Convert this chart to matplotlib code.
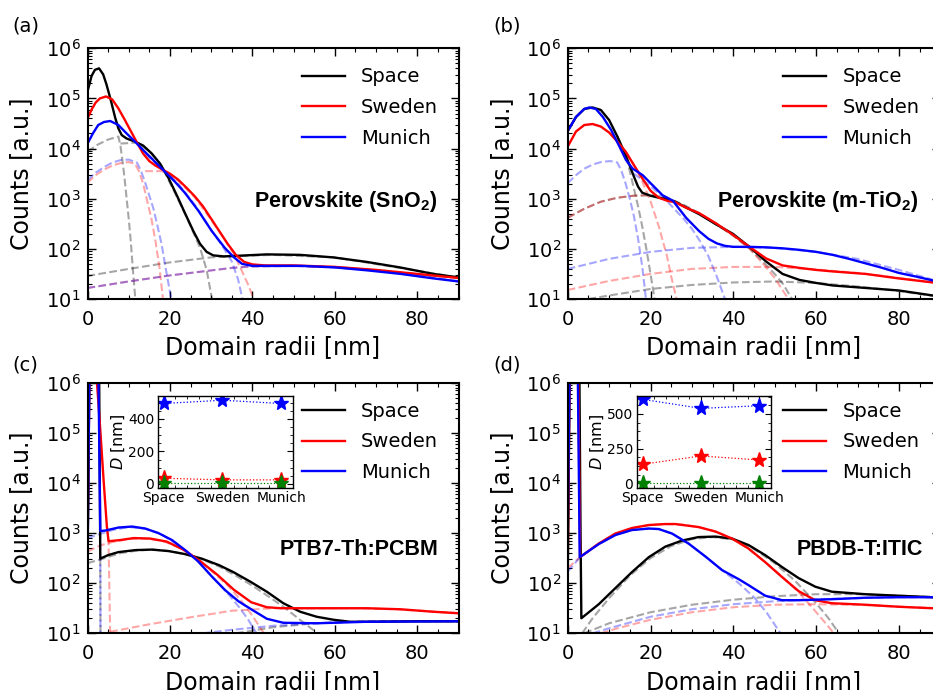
import numpy as np
import matplotlib
matplotlib.use("Agg")
import matplotlib.pyplot as plt
from matplotlib.ticker import MultipleLocator, AutoMinorLocator, LogLocator

plt.rcParams['font.family'] = ['DejaVu Sans']
plt.rcParams['mathtext.fontset'] = 'dejavusans'

# ---------------- data: x = domain radius [nm], values = log10(counts) -------------
SERIES = ["Space", "Sweden", "Munich"]
COLORS = {"Space": "black", "Sweden": "red", "Munich": "blue"}
PANEL_TITLES = ["Perovskite (SnO$_\\mathdefault{2}$)", "Perovskite (m-TiO$_\\mathdefault{2}$)",
                "PTB7-Th:PCBM", "PBDB-T:ITIC"]
PANEL_TAGS = ["(a)", "(b)", "(c)", "(d)"]

# ---- panel (a) solid curves
A_SPACE_X = [0, 1, 1.8, 2.8, 3.8, 4.6, 5.7, 6.7, 7.5, 8.3, 9.5, 11.5, 13.5, 15.6, 17.6, 19.6, 21.6, 23.6, 25.7, 27.3,
             28.9, 30.5, 33, 36, 43.5, 51.6, 59.6, 67.7, 75.8, 83.9, 90]
A_SPACE_Y = [5.14, 5.45, 5.57, 5.6, 5.48, 5.28, 4.95, 4.62, 4.4, 4.27, 4.2, 4.14, 4.06, 3.9, 3.7, 3.42, 3.08, 2.72, 2.35, 2.1,
             1.94, 1.87, 1.85, 1.86, 1.89, 1.88, 1.83, 1.74, 1.63, 1.5, 1.43]
A_SWEDEN_X = [0, 1, 2, 3, 4.5, 6, 7.5, 9, 10.5, 12, 13.5, 15, 16.5, 18.4, 20, 22, 24, 26, 28, 30, 32, 34, 36, 38, 40, 43,
              50, 60, 70, 80, 90]
A_SWEDEN_Y = [4.6, 4.78, 4.92, 5.0, 5.04, 4.98, 4.8, 4.58, 4.35, 4.12, 3.9, 3.75, 3.66, 3.57, 3.5, 3.38, 3.22, 3.05, 2.85,
              2.6, 2.35, 2.1, 1.88, 1.74, 1.69, 1.67, 1.67, 1.64, 1.58, 1.5, 1.42]
A_MUNICH_X = [0, 1.3, 2.6, 4, 5.5, 7.5, 9.5, 11.5, 13.5, 15.6, 18.4, 21.2, 23.6, 26.9, 30.1, 33.3, 35.4, 37.5, 40, 45, 52,
              60, 68, 76, 84, 90]
A_MUNICH_Y = [4.1, 4.3, 4.47, 4.53, 4.55, 4.47, 4.3, 4.14, 3.97, 3.8, 3.57, 3.34, 3.12, 2.76, 2.36, 2.02, 1.84, 1.7, 1.66,
              1.66, 1.66, 1.63, 1.57, 1.5, 1.41, 1.35]
# ---- panel (a) fit components (dashed)
A_SPACE_C1_X = [0, 2.5, 5, 7.5, 8, 8.5, 9, 9.5, 10, 10.5, 11, 11.6]
A_SPACE_C1_Y = [3.94, 4.08, 4.18, 4.24, 4.05, 3.75, 3.4, 3.0, 2.6, 2.15, 1.6, 1.0]
A_SPACE_C2_X = [8, 12, 15, 18, 21, 24, 25.5, 27.3, 28.9, 30.2]
A_SPACE_C2_Y = [4.1, 4.12, 3.95, 3.65, 3.15, 2.64, 2.36, 2.02, 1.58, 1.0]
A_SPACE_C3_X = [0, 10, 20, 30, 35, 45, 60, 75, 90]
A_SPACE_C3_Y = [1.46, 1.6, 1.73, 1.83, 1.85, 1.88, 1.83, 1.63, 1.43]
A_SWEDEN_C1_X = [0, 2, 4, 6, 8, 10, 11.5, 12.5, 13.5, 14.5, 15.5, 16.5, 17.5, 18.3]
A_SWEDEN_C1_Y = [3.32, 3.47, 3.58, 3.66, 3.71, 3.73, 3.7, 3.55, 3.3, 2.95, 2.6, 2.15, 1.6, 1.0]
A_SWEDEN_C2_X = [14, 18, 22, 26, 30, 33, 35.5, 37.5, 39, 40.3]
A_SWEDEN_C2_Y = [3.55, 3.55, 3.36, 3.03, 2.58, 2.22, 1.9, 1.55, 1.28, 1.0]
A_SWEDEN_C3_X = [0, 10, 20, 30, 35, 40, 50, 60, 70, 80, 90]
A_SWEDEN_C3_Y = [1.22, 1.35, 1.47, 1.57, 1.62, 1.65, 1.66, 1.64, 1.58, 1.5, 1.41]
A_MUNICH_C1_X = [0, 2, 4, 6, 8, 10, 12, 13, 14, 15, 16, 17, 18, 19, 20.3]
A_MUNICH_C1_Y = [3.37, 3.52, 3.63, 3.72, 3.77, 3.78, 3.72, 3.55, 3.32, 3.06, 2.8, 2.45, 2.08, 1.6, 1.0]
A_MUNICH_C2_X = [14, 18, 22, 26, 30, 33, 35, 36.5, 37.6]
A_MUNICH_C2_Y = [3.9, 3.6, 3.3, 2.88, 2.38, 2.02, 1.75, 1.4, 1.0]
A_MUNICH_C3_X = [0, 10, 20, 30, 35, 40, 50, 60, 70, 80, 90]
A_MUNICH_C3_Y = [1.22, 1.35, 1.47, 1.57, 1.62, 1.65, 1.66, 1.63, 1.57, 1.48, 1.35]

# ---- panel (b) solid curves
B_SPACE_X = [0, 2, 4, 6, 8, 10, 12, 14, 16, 17, 18, 20, 22, 24, 26, 28, 31.8, 35.8, 39.9, 43.9, 47.9, 51.9, 56, 60, 64,
             72, 80, 88.2, 90]
B_SPACE_Y = [4.35, 4.63, 4.79, 4.82, 4.77, 4.57, 4.24, 3.87, 3.44, 3.24, 3.12, 3.06, 3.02, 2.99, 2.94, 2.85, 2.69, 2.49,
             2.3, 2.04, 1.75, 1.5, 1.38, 1.32, 1.27, 1.22, 1.17, 1.07, 1.05]
B_SWEDEN_X = [0, 2, 4, 6, 8, 10, 12, 14, 16, 18, 20, 22, 24, 26, 28.6, 31.8, 35.8, 39.9, 43.9, 47.9, 51.9, 56, 60, 64, 72,
              80, 88.2, 90]
B_SWEDEN_Y = [4.04, 4.34, 4.47, 4.49, 4.44, 4.32, 4.14, 3.94, 3.67, 3.41, 3.16, 3.02, 2.96, 2.93, 2.82, 2.71, 2.51, 2.28,
              2.04, 1.81, 1.67, 1.62, 1.58, 1.55, 1.5, 1.41, 1.33, 1.31]
B_MUNICH_X = [0, 2, 4, 5.2, 6.8, 8.5, 10.5, 12.5, 14.1, 15.7, 18.1, 20.5, 22.9, 25.4, 28.6, 31.8, 34, 36, 38, 40, 44, 48,
              52, 56, 60, 64, 68, 72, 76, 80, 84, 88.2, 90]
B_MUNICH_Y = [4.35, 4.63, 4.79, 4.82, 4.79, 4.63, 4.37, 4.04, 3.77, 3.6, 3.47, 3.27, 3.07, 2.96, 2.62, 2.35, 2.2, 2.11,
              2.06, 2.04, 2.04, 2.03, 2.01, 1.98, 1.94, 1.88, 1.8, 1.71, 1.62, 1.52, 1.45, 1.37, 1.34]
# ---- panel (b) components
B_SPACE_C1_X = [12, 14, 15, 16, 17, 18, 19, 20, 21]
B_SPACE_C1_Y = [4.24, 3.87, 3.55, 3.2, 2.85, 2.45, 2.0, 1.5, 1.0]
B_SPACE_C2_X = [0, 4, 8, 12, 16, 20, 24, 28, 32, 36, 40, 44, 47, 50, 52, 54.2]
B_SPACE_C2_Y = [2.62, 2.8, 2.94, 3.02, 3.06, 3.07, 3.02, 2.88, 2.7, 2.48, 2.26, 2.0, 1.76, 1.5, 1.3, 1.0]
B_SPACE_C3_X = [5, 10, 20, 30, 40, 50, 60, 70, 80, 90]
B_SPACE_C3_Y = [1.0, 1.07, 1.2, 1.28, 1.33, 1.35, 1.32, 1.25, 1.16, 1.04]
B_SWEDEN_C1_X = [14, 16, 18, 20, 22, 24, 25, 26.3]
B_SWEDEN_C1_Y = [3.94, 3.67, 3.35, 2.95, 2.45, 1.85, 1.45, 1.0]
B_SWEDEN_C2_X = [0, 4, 8, 12, 16, 20, 24, 28, 32, 36, 40, 44, 47, 50, 53.3]
B_SWEDEN_C2_Y = [2.62, 2.8, 2.94, 3.02, 3.06, 3.07, 3.0, 2.86, 2.7, 2.5, 2.27, 2.0, 1.72, 1.42, 1.0]
B_SWEDEN_C3_X = [0, 10, 20, 30, 40, 50, 60, 70, 80, 90]
B_SWEDEN_C3_Y = [1.18, 1.36, 1.5, 1.6, 1.64, 1.64, 1.59, 1.52, 1.42, 1.31]
B_MUNICH_C1_X = [0, 2, 4, 6, 8, 10, 11.5, 12, 13, 14, 15, 16, 17, 18, 18.9]
B_MUNICH_C1_Y = [3.31, 3.47, 3.6, 3.68, 3.73, 3.75, 3.74, 3.72, 3.55, 3.3, 3.0, 2.65, 2.2, 1.65, 1.0]
B_MUNICH_C2_X = [16, 20, 24, 28, 30, 32, 34, 36, 38]
B_MUNICH_C2_Y = [3.5, 3.25, 2.95, 2.6, 2.4, 2.15, 1.85, 1.45, 1.0]
B_MUNICH_C3_X = [0, 10, 20, 30, 40, 50, 60, 70, 80, 90]
B_MUNICH_C3_Y = [1.6, 1.8, 1.94, 2.02, 2.04, 2.02, 1.94, 1.8, 1.58, 1.34]

# ---- panel (c) solid curves
C_SPACE_X = [0, 0.5, 1.5, 2.8, 3.1, 5, 7.5, 11.6, 15.6, 19.7, 23.7, 27.7, 31.9, 35.4, 39.5, 43.5, 47.5, 51.6, 55.6, 59.7,
             63.7, 67.7, 80, 90]
C_SPACE_Y = [2.4, 6.5, 7.5, 6.5, 2.49, 2.56, 2.62, 2.66, 2.67, 2.64, 2.58, 2.49, 2.36, 2.22, 2.03, 1.83, 1.6, 1.43, 1.33,
             1.27, 1.23, 1.23, 1.24, 1.24]
C_SWEDEN_X = [0, 0.5, 1.5, 2.3, 3.1, 3.9, 4.7, 5.1, 5.5, 7.9, 11.2, 15.2, 19.2, 23.5, 27.5, 31.6, 35.5, 39.7, 43.5, 47,
              51.6, 59.7, 67.7, 75.8, 83.9, 90]
C_SWEDEN_Y = [2.6, 6.5, 7.0, 6.0, 5.06, 4.06, 3.13, 2.84, 2.84, 2.86, 2.9, 2.89, 2.83, 2.66, 2.43, 2.16, 1.87, 1.62, 1.52,
              1.5, 1.5, 1.5, 1.5, 1.48, 1.43, 1.4]
C_MUNICH_X = [0, 0.5, 1.5, 2.6, 3.1, 4.3, 7.5, 10.8, 14, 17.2, 20.5, 23.7, 26.9, 30.2, 33.4, 36.6, 39.9, 43.5, 47.5, 55.6,
              67.7, 90]
C_MUNICH_Y = [2.3, 6.5, 7.5, 6.5, 3.04, 3.05, 3.11, 3.13, 3.09, 3.0, 2.86, 2.66, 2.43, 2.13, 1.86, 1.64, 1.47, 1.29, 1.21,
              1.2, 1.23, 1.24]
# ---- panel (c) components
C_SPACE_C1_X = [3.1, 3.15]
C_SPACE_C1_Y = [2.49, 1.0]
C_SPACE_C2_X = [0, 3, 8, 12, 16, 20, 24, 28, 32, 36, 40, 44, 48, 52, 55.8]
C_SPACE_C2_Y = [2.4, 2.47, 2.6, 2.65, 2.67, 2.64, 2.57, 2.47, 2.33, 2.15, 1.95, 1.73, 1.5, 1.24, 1.0]
C_SPACE_C3_X = [36, 45, 55, 65, 75, 90]
C_SPACE_C3_Y = [1.0, 1.12, 1.2, 1.23, 1.24, 1.24]
C_SWEDEN_C1_X = [4.7, 5.1, 5.5]
C_SWEDEN_C1_Y = [3.13, 2.84, 1.0]
C_SWEDEN_C2_X = [0, 3, 6, 10, 14, 18, 22, 26, 30, 34, 37, 40, 42.8]
C_SWEDEN_C2_Y = [2.63, 2.75, 2.82, 2.88, 2.89, 2.85, 2.72, 2.52, 2.25, 1.96, 1.68, 1.35, 1.0]
C_SWEDEN_C3_X = [5.5, 15, 25, 35, 45, 55, 65, 75, 90]
C_SWEDEN_C3_Y = [1.03, 1.18, 1.32, 1.45, 1.5, 1.5, 1.5, 1.48, 1.4]
C_MUNICH_C1_X = [3.1, 3.15]
C_MUNICH_C1_Y = [3.04, 1.0]
C_MUNICH_C2_X = [0, 3, 6, 10, 14, 18, 22, 26, 30, 34, 37, 39, 41]
C_MUNICH_C2_Y = [2.9, 2.98, 3.06, 3.12, 3.09, 2.97, 2.76, 2.5, 2.15, 1.8, 1.5, 1.27, 1.0]
C_MUNICH_C3_X = [28, 35, 45, 55, 65, 75, 90]
C_MUNICH_C3_Y = [1.0, 1.07, 1.15, 1.2, 1.23, 1.24, 1.24]

# ---- panel (d) solid curves
D_SPACE_X = [0, 0.5, 1.5, 2.8, 3.1, 3.3, 7.5, 11.5, 15.5, 19.6, 23.6, 27.6, 31.6, 35.7, 39.7, 43.7, 47.7, 51.8, 55.8,
             59.8, 63.8, 71.9, 79.9, 88, 90]
D_SPACE_Y = [2.0, 6.5, 7.5, 6.5, 3.0, 1.3, 1.58, 1.9, 2.22, 2.52, 2.73, 2.85, 2.92, 2.93, 2.89, 2.76, 2.56, 2.32, 2.1,
             1.93, 1.83, 1.78, 1.75, 1.72, 1.71]
D_SWEDEN_X = [0, 0.5, 1.5, 2.5, 3.0, 7.5, 11.5, 15.5, 19.6, 23.6, 26, 31.6, 35.7, 39.7, 43.7, 47.7, 51.8, 55.8, 59.8,
              63.8, 71.9, 79.9, 88, 90]
D_SWEDEN_Y = [2.3, 6.5, 7.5, 6.5, 2.52, 2.79, 2.99, 3.1, 3.16, 3.18, 3.18, 3.12, 3.03, 2.89, 2.69, 2.42, 2.12, 1.84, 1.66,
              1.6, 1.57, 1.53, 1.5, 1.49]
D_MUNICH_X = [0, 0.5, 1.5, 2.4, 2.9, 7.5, 11.5, 15.5, 19.6, 22, 25.2, 29.2, 33.3, 37.3, 41.3, 43.7, 47.7, 51.8, 55.8,
              63.8, 71.9, 79.9, 88, 90]
D_MUNICH_Y = [2.9, 6.5, 7.5, 6.5, 2.52, 2.78, 2.96, 3.06, 3.09, 3.08, 2.99, 2.79, 2.53, 2.26, 2.08, 1.96, 1.75, 1.66,
              1.66, 1.68, 1.71, 1.72, 1.72, 1.72]
# ---- panel (d) components
D_SPACE_C1_X = [3.5, 6, 10, 15, 20, 25, 30, 35, 40, 45, 50, 55, 60, 63, 65.5]
D_SPACE_C1_Y = [1.0, 1.3, 1.7, 2.15, 2.5, 2.74, 2.88, 2.92, 2.87, 2.68, 2.4, 2.04, 1.6, 1.3, 1.0]
D_SPACE_C2_X = [4, 10, 20, 30, 40, 50, 60, 70, 80, 90]
D_SPACE_C2_Y = [1.0, 1.2, 1.42, 1.57, 1.67, 1.74, 1.78, 1.78, 1.75, 1.72]
D_SWEDEN_C1_X = [0, 3, 7.5, 11.5, 15.5, 19.6, 23.6, 27.6, 31.6, 35.7, 39.7, 43.7, 47.7, 51.8, 55.8, 59, 62, 64.3]
D_SWEDEN_C1_Y = [2.3, 2.52, 2.79, 2.99, 3.1, 3.16, 3.18, 3.17, 3.12, 3.03, 2.89, 2.68, 2.42, 2.13, 1.82, 1.52, 1.23, 1.0]
D_SWEDEN_C2_X = [8, 12, 20, 30, 40, 50, 60, 70, 80, 90]
D_SWEDEN_C2_Y = [1.0, 1.1, 1.27, 1.42, 1.52, 1.57, 1.58, 1.57, 1.53, 1.5]
D_MUNICH_C1_X = [0, 3, 7.5, 11.5, 15.5, 19.6, 22, 25.2, 29.2, 33.3, 37.3, 41.3, 45, 48, 51.4]
D_MUNICH_C1_Y = [2.23, 2.52, 2.78, 2.96, 3.06, 3.09, 3.08, 2.99, 2.79, 2.53, 2.26, 2.0, 1.72, 1.42, 1.0]
D_MUNICH_C2_X = [6, 10, 20, 30, 40, 50, 60, 70, 80, 90]
D_MUNICH_C2_Y = [1.0, 1.1, 1.33, 1.48, 1.58, 1.64, 1.68, 1.7, 1.72, 1.72]

# ---- insets: characteristic distances D [nm]
INSET_CATS = ["Space", "Sweden", "Munich"]
C_INSET_BLUE = [494, 514, 494]
C_INSET_RED = [35, 25, 25]
C_INSET_GREEN = [8, 8, 8]
D_INSET_BLUE = [605, 540, 559]
D_INSET_RED = [137, 197, 168]
D_INSET_GREEN = [5, 5, 5]

# ---------------- assemble ----------------
solids = [
    {"Space": (A_SPACE_X, A_SPACE_Y), "Sweden": (A_SWEDEN_X, A_SWEDEN_Y), "Munich": (A_MUNICH_X, A_MUNICH_Y)},
    {"Space": (B_SPACE_X, B_SPACE_Y), "Sweden": (B_SWEDEN_X, B_SWEDEN_Y), "Munich": (B_MUNICH_X, B_MUNICH_Y)},
    {"Space": (C_SPACE_X, C_SPACE_Y), "Sweden": (C_SWEDEN_X, C_SWEDEN_Y), "Munich": (C_MUNICH_X, C_MUNICH_Y)},
    {"Space": (D_SPACE_X, D_SPACE_Y), "Sweden": (D_SWEDEN_X, D_SWEDEN_Y), "Munich": (D_MUNICH_X, D_MUNICH_Y)},
]
components = [
    [("Space", A_SPACE_C1_X, A_SPACE_C1_Y), ("Space", A_SPACE_C2_X, A_SPACE_C2_Y), ("Space", A_SPACE_C3_X, A_SPACE_C3_Y),
     ("Sweden", A_SWEDEN_C1_X, A_SWEDEN_C1_Y), ("Sweden", A_SWEDEN_C2_X, A_SWEDEN_C2_Y),
     ("Sweden", A_SWEDEN_C3_X, A_SWEDEN_C3_Y),
     ("Munich", A_MUNICH_C1_X, A_MUNICH_C1_Y), ("Munich", A_MUNICH_C2_X, A_MUNICH_C2_Y),
     ("Munich", A_MUNICH_C3_X, A_MUNICH_C3_Y)],
    [("Space", B_SPACE_C1_X, B_SPACE_C1_Y), ("Space", B_SPACE_C2_X, B_SPACE_C2_Y), ("Space", B_SPACE_C3_X, B_SPACE_C3_Y),
     ("Sweden", B_SWEDEN_C1_X, B_SWEDEN_C1_Y), ("Sweden", B_SWEDEN_C2_X, B_SWEDEN_C2_Y),
     ("Sweden", B_SWEDEN_C3_X, B_SWEDEN_C3_Y),
     ("Munich", B_MUNICH_C1_X, B_MUNICH_C1_Y), ("Munich", B_MUNICH_C2_X, B_MUNICH_C2_Y),
     ("Munich", B_MUNICH_C3_X, B_MUNICH_C3_Y)],
    [("Space", C_SPACE_C1_X, C_SPACE_C1_Y), ("Space", C_SPACE_C2_X, C_SPACE_C2_Y), ("Space", C_SPACE_C3_X, C_SPACE_C3_Y),
     ("Sweden", C_SWEDEN_C1_X, C_SWEDEN_C1_Y), ("Sweden", C_SWEDEN_C2_X, C_SWEDEN_C2_Y),
     ("Sweden", C_SWEDEN_C3_X, C_SWEDEN_C3_Y),
     ("Munich", C_MUNICH_C1_X, C_MUNICH_C1_Y), ("Munich", C_MUNICH_C2_X, C_MUNICH_C2_Y),
     ("Munich", C_MUNICH_C3_X, C_MUNICH_C3_Y)],
    [("Space", D_SPACE_C1_X, D_SPACE_C1_Y), ("Space", D_SPACE_C2_X, D_SPACE_C2_Y),
     ("Sweden", D_SWEDEN_C1_X, D_SWEDEN_C1_Y), ("Sweden", D_SWEDEN_C2_X, D_SWEDEN_C2_Y),
     ("Munich", D_MUNICH_C1_X, D_MUNICH_C1_Y), ("Munich", D_MUNICH_C2_X, D_MUNICH_C2_Y)],
]
insets = [None, None,
          {"blue": C_INSET_BLUE, "red": C_INSET_RED, "green": C_INSET_GREEN},
          {"blue": D_INSET_BLUE, "red": D_INSET_RED, "green": D_INSET_GREEN}]

# ---------------- figure ----------------
W, H = 933, 690
fig = plt.figure(figsize=(W / 100, H / 100), dpi=100)


def fx(px):
    return px / W


def fy(py):
    return 1 - py / H


ax_rects = [
    (87.5, 48.3, 371.0, 250.7),
    (567.7, 48.3, 372.6, 250.7),
    (87.5, 382.7, 371.0, 250.6),
    (567.7, 382.7, 372.6, 250.6),
]
title_pos = [(0.942, 0.388), (0.941, 0.388), (0.945, 0.336), (0.953, 0.336)]
tag_pos = [(12, 26), (493, 26), (12, 365), (493, 365)]
inset_rects = [None, None, (157.7, 396, 135.3, 92), (636.7, 396, 134.3, 92)]
inset_ylims = [None, None, (-25, 540), (-34, 629)]
inset_yticks = [None, None, [0, 200, 400], [0, 250, 500]]

for i in range(4):
    l, t, w, h = ax_rects[i]
    ax = fig.add_axes([fx(l), fy(t + h), w / W, h / H])
    for comp in components[i]:
        name, cx, cy = comp
        ax.plot(cx, np.power(10.0, cy), ls='--', lw=1.5, color=COLORS[name], alpha=0.35)
    for name in SERIES:
        sx, sy = solids[i][name]
        ax.plot(sx, np.power(10.0, sy), '-', lw=1.7, color=COLORS[name], label=name)
    ax.set_yscale('log')
    ax.set_xlim(0, 90)
    ax.set_ylim(10, 1e6)
    ax.xaxis.set_major_locator(MultipleLocator(20))
    ax.xaxis.set_minor_locator(MultipleLocator(5))
    ax.yaxis.set_major_locator(LogLocator(base=10, numticks=10))
    ax.yaxis.set_minor_locator(LogLocator(base=10, subs=np.arange(2, 10), numticks=20))
    ax.tick_params(which='both', direction='in', top=True, right=True, labelsize=14)
    ax.tick_params(which='major', length=6, width=1.0)
    ax.tick_params(axis='x', which='major', pad=8)
    ax.tick_params(axis='y', which='major', pad=5)
    ax.tick_params(which='minor', length=3, width=0.8)
    for sp in ax.spines.values():
        sp.set_linewidth(1.5)
    ax.set_xlabel("Domain radii [nm]", fontsize=17)
    ax.set_ylabel("Counts [a.u.]", fontsize=17)
    ax.xaxis.set_label_coords(0.5, -0.145)
    ax.yaxis.set_label_coords(-0.146 if i % 2 == 0 else -0.143, 0.5)
    ax.text(title_pos[i][0], title_pos[i][1], PANEL_TITLES[i], transform=ax.transAxes,
            ha='right', va='center', fontsize=15.5, fontweight='bold', family='Liberation Sans')
    ax.legend(loc='upper left', bbox_to_anchor=(0.557, 0.955), frameon=False, fontsize=14,
              handlelength=2.2, handletextpad=0.85, labelspacing=0.6, borderaxespad=0, borderpad=0.4)
    fig.text(fx(tag_pos[i][0]), fy(tag_pos[i][1]), PANEL_TAGS[i], fontsize=14, ha='left', va='center')

    if insets[i] is not None:
        l2, t2, w2, h2 = inset_rects[i]
        iax = fig.add_axes([fx(l2), fy(t2 + h2), w2 / W, h2 / H])
        xs = np.arange(len(INSET_CATS))
        for key in ["blue", "red", "green"]:
            iax.plot(xs, insets[i][key], ls=':', lw=0.9, color=key, marker='*', markersize=11)
        iax.set_xlim(-0.1, 2.2)
        iax.set_ylim(*inset_ylims[i])
        iax.set_xticks(xs)
        iax.set_xticklabels(INSET_CATS)
        iax.set_yticks(inset_yticks[i])
        iax.xaxis.set_minor_locator(AutoMinorLocator(5))
        iax.yaxis.set_minor_locator(AutoMinorLocator(4))
        iax.tick_params(which='both', direction='in', top=True, right=True, labelsize=10)
        iax.tick_params(which='major', length=4, width=0.8, pad=2.5)
        iax.tick_params(which='minor', length=2, width=0.6)
        for sp in iax.spines.values():
            sp.set_linewidth(1.0)
        iax.set_ylabel("$D$ [nm]", fontsize=11.5, labelpad=1)

fig.savefig("out.png", dpi=100)
